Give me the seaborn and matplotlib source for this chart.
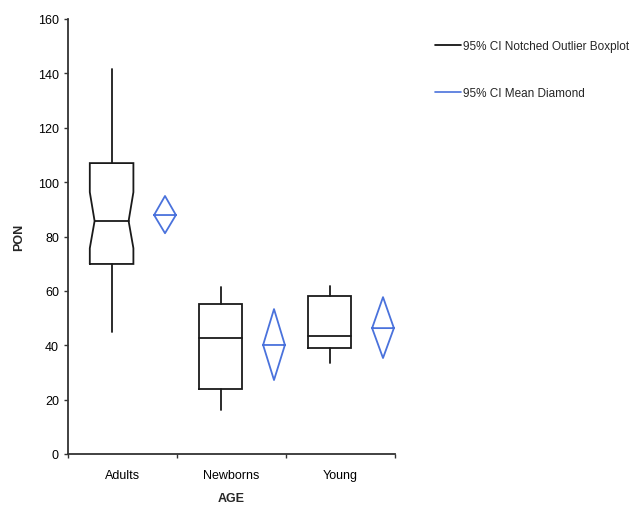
import numpy as np
import pandas as pd
import matplotlib.pyplot as plt
import seaborn as sns
from matplotlib.lines import Line2D

groups = ["Adults", "Newborns", "Young"]
whisker_lo = [45.0, 16.2, 33.5]
q1 = [69.9, 23.9, 39.0]
median = [85.7, 42.6, 43.4]
q3 = [107.0, 55.1, 58.1]
whisker_hi = [141.5, 61.4, 61.8]
notch_lo = [75.7, None, None]   # notch only drawn where CI stays inside the box
notch_hi = [96.3, None, None]
mean = [87.9, 40.1, 46.3]
mean_lo = [81.2, 27.2, 35.3]
mean_hi = [94.9, 53.3, 57.7]

sns.set_style("ticks")
plt.rcParams['font.family'] = ['Arial', 'Liberation Sans', 'DejaVu Sans']

box_color = "#1a1a1a"
diamond_color = "#4a72dc"
box_w = 0.40
box_off = -0.10
dia_w = 0.20
dia_off = 0.39

fig = plt.figure(figsize=(6.31, 5.06), dpi=100)
ax = fig.add_axes([68 / 631, 51 / 506, 327 / 631, 435 / 506])

rows = []
for i, g in enumerate(groups):
    c = i + box_off
    l, r = c - box_w / 2, c + box_w / 2
    if notch_lo[i] is not None:
        wl, wr = c - box_w * 0.39, c + box_w * 0.39
        xs = [l, l, wl, l, l, r, r, wr, r, r, l]
        ys = [q1[i], notch_lo[i], median[i], notch_hi[i], q3[i], q3[i],
              notch_hi[i], median[i], notch_lo[i], q1[i], q1[i]]
        med_x = [wl, wr]
    else:
        xs = [l, l, r, r, l]
        ys = [q1[i], q3[i], q3[i], q1[i], q1[i]]
        med_x = [l, r]
    ax.plot(xs, ys, color=box_color, lw=1.3, solid_joinstyle="miter")
    ax.plot(med_x, [median[i]] * 2, color=box_color, lw=1.3)
    ax.plot([c, c], [q3[i], whisker_hi[i]], color=box_color, lw=1.3)
    ax.plot([c, c], [whisker_lo[i], q1[i]], color=box_color, lw=1.3)

    d = i + dia_off
    for k, (px, py) in enumerate([(d - dia_w / 2, mean[i]), (d, mean_hi[i]),
                                  (d + dia_w / 2, mean[i]), (d, mean_lo[i]),
                                  (d - dia_w / 2, mean[i]), (d + dia_w / 2, mean[i])]):
        rows.append({"group": g, "order": k, "x": px, "y": py})

diamonds = pd.DataFrame(rows)
sns.lineplot(data=diamonds, x="x", y="y", units="group", estimator=None,
             sort=False, color=diamond_color, lw=1.3, ax=ax)

ax.set_xlim(-0.5, 2.5)
ax.set_ylim(0, 160)
ax.set_yticks(np.arange(0, 161, 20))
ax.set_xticks(range(len(groups)))
ax.set_xticklabels(groups)
ax.set_xticks(np.arange(-0.5, 2.6, 1.0), minor=True)
ax.tick_params(axis="x", which="major", length=0, pad=11, labelsize=9, colors="black")
ax.tick_params(axis="x", which="minor", length=3, width=1, color="#333333", direction="out")
ax.tick_params(axis="y", length=3, width=1, color="#333333", labelsize=9, labelcolor="black")
for s in ["left", "bottom"]:
    ax.spines[s].set_color("#333333")
    ax.spines[s].set_linewidth(1.3)
sns.despine(ax=ax)

ax.set_xlabel("AGE", fontsize=9, fontweight="bold", labelpad=8)
ax.set_ylabel("PON", fontsize=9, fontweight="bold", labelpad=9)

handles = [Line2D([0], [0], color="black", lw=1.2),
           Line2D([0], [0], color=diamond_color, lw=1.2)]
fig.legend(handles, ["95% CI Notched Outlier Boxplot", "95% CI Mean Diamond"],
           loc="upper left", bbox_to_anchor=(435 / 631, 1 - 41 / 506),
           frameon=False, fontsize=8.5, handlelength=2.2, handletextpad=0.15,
           labelspacing=2.95, borderpad=0, borderaxespad=0)

fig.savefig("out.png", dpi=100, facecolor="white")
